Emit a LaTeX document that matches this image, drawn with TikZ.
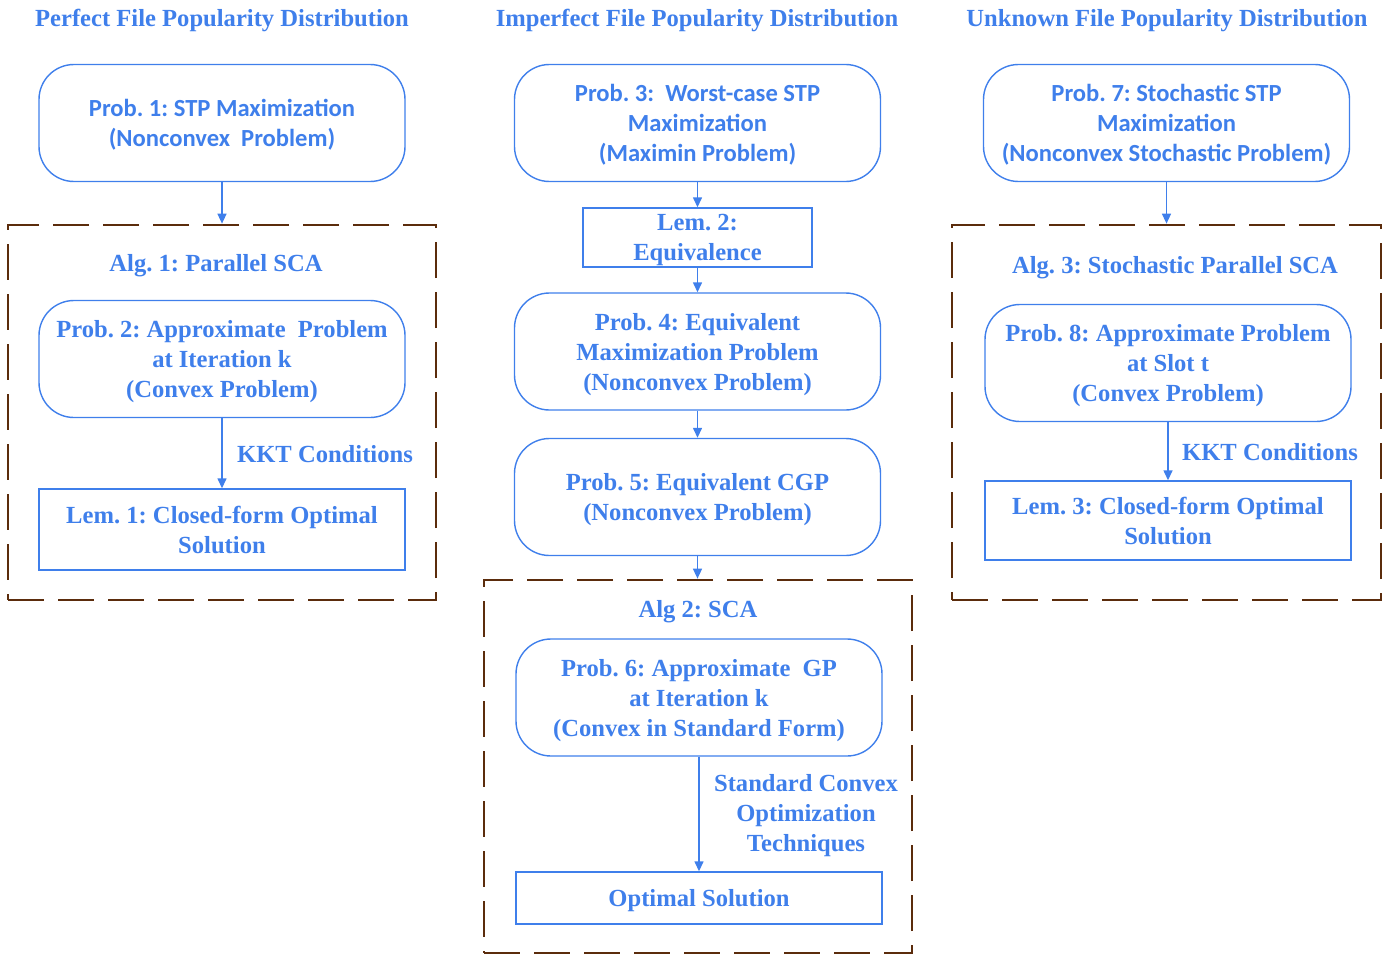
\documentclass[tikz,border=0pt]{standalone}
\usepackage{fontspec}
\setmainfont{Liberation Serif}
\newfontfamily\calfont{Carlito}
\usetikzlibrary{arrows.meta,positioning}
\definecolor{probblue}{HTML}{3F7FEB}
\definecolor{algbrown}{HTML}{5B2C0C}
\frenchspacing

\begin{document}
\begin{tikzpicture}[x=0.5pt,y=-0.5pt,
  every node/.style={font=\fontsize{12.3}{15}\selectfont\bfseries, text=probblue, align=center, text depth=0pt},
  prob/.style={draw=probblue, line width=0.7pt, rounded corners=17.5pt, minimum width=183pt, minimum height=58.5pt, inner sep=0pt},
  lem/.style={draw=probblue, line width=0.7pt, minimum width=183pt, inner sep=0pt},
  alg/.style={draw=algbrown, line width=1.35pt, dash pattern=on 18pt off 7pt, inner sep=0pt},
  conn/.style={draw=probblue, line width=0.7pt, -{Triangle[length=5pt,width=4.5pt]}},
  cal/.style={font=\fontsize{12.3}{15}\selectfont\calfont\bfseries}]
  \useasboundingbox (0,0) rectangle (1391,963);

  % headings
  \node (h1) at (222,18) {Perfect File Popularity Distribution};
  \node (h2) at (697,18) {Imperfect File Popularity Distribution};
  \node (h3) at (1167,18) {Unknown File Popularity Distribution};

  % algorithm frames
  \node[alg, minimum width=214pt, minimum height=187.5pt] (alg1) at (222,412.5) {};
  \node[alg, minimum width=214pt, minimum height=186.5pt] (alg2) at (698,766.5) {};
  \node[alg, minimum width=214.5pt, minimum height=187.5pt] (alg3) at (1166.5,412.5) {};
  \node (a1) at (216,263) {Alg. 1: Parallel SCA};
  \node (a2) at (698,609) {Alg 2: SCA};
  \node (a3) at (1175,265) {Alg. 3: Stochastic Parallel SCA};

  % perfect
  \node[prob, cal] (p1) at (222,123) {Prob. 1: STP Maximization\\(Nonconvex\ \ Problem)};
  \node[prob] (p2) at (222,359) {Prob. 2: Approximate\ \ Problem\\at Iteration k\\(Convex Problem)};
  \node[lem, minimum height=40.5pt] (l1) at (222,529.5) {Lem. 1: Closed-form Optimal\\Solution};
  \node (kkt1) at (325,454) {KKT Conditions};

  % imperfect
  \node[prob, cal] (p3) at (697.5,123) {Prob. 3:\ \ Worst-case STP\\Maximization\\(Maximin Problem)};
  \node[lem, minimum width=114.5pt, minimum height=29.5pt] (l2) at (697.5,237.5) {Lem. 2:\\Equivalence};
  \node[prob] (p4) at (697.5,351.5) {Prob. 4: Equivalent\\Maximization Problem\\(Nonconvex Problem)};
  \node[prob] (p5) at (697.5,497) {Prob. 5: Equivalent CGP\\(Nonconvex Problem)};
  \node[prob] (p6) at (699,697.5) {Prob. 6: Approximate\ \ GP\\at Iteration k\\(Convex in Standard Form)};
  \node[lem, minimum height=26pt] (opt) at (699,898) {Optimal Solution};
  \node (tech) at (806,813) {Standard Convex\\Optimization\\Techniques};

  % unknown
  \node[prob, cal] (p7) at (1166.5,123) {Prob. 7: Stochastic STP\\Maximization\\(Nonconvex Stochastic Problem)};
  \node[prob] (p8) at (1168,363) {Prob. 8: Approximate Problem\\at Slot t\\(Convex Problem)};
  \node[lem, minimum height=39.5pt] (l3) at (1168,520.5) {Lem. 3: Closed-form Optimal\\Solution};
  \node (kkt3) at (1270,452) {KKT Conditions};

  % connectors
  \draw[conn] (p1) -- (alg1.north);
  \draw[conn] (p2) -- (l1);
  \draw[conn] (p3) -- (l2);
  \draw[conn] (l2) -- (p4);
  \draw[conn] (p4) -- (p5);
  \draw[conn] (p5.south) -- (p5.south |- alg2.north);
  \draw[conn] (p6) -- (opt);
  \draw[conn] (p7) -- (alg3.north);
  \draw[conn] (p8) -- (l3);
\end{tikzpicture}
\end{document}
